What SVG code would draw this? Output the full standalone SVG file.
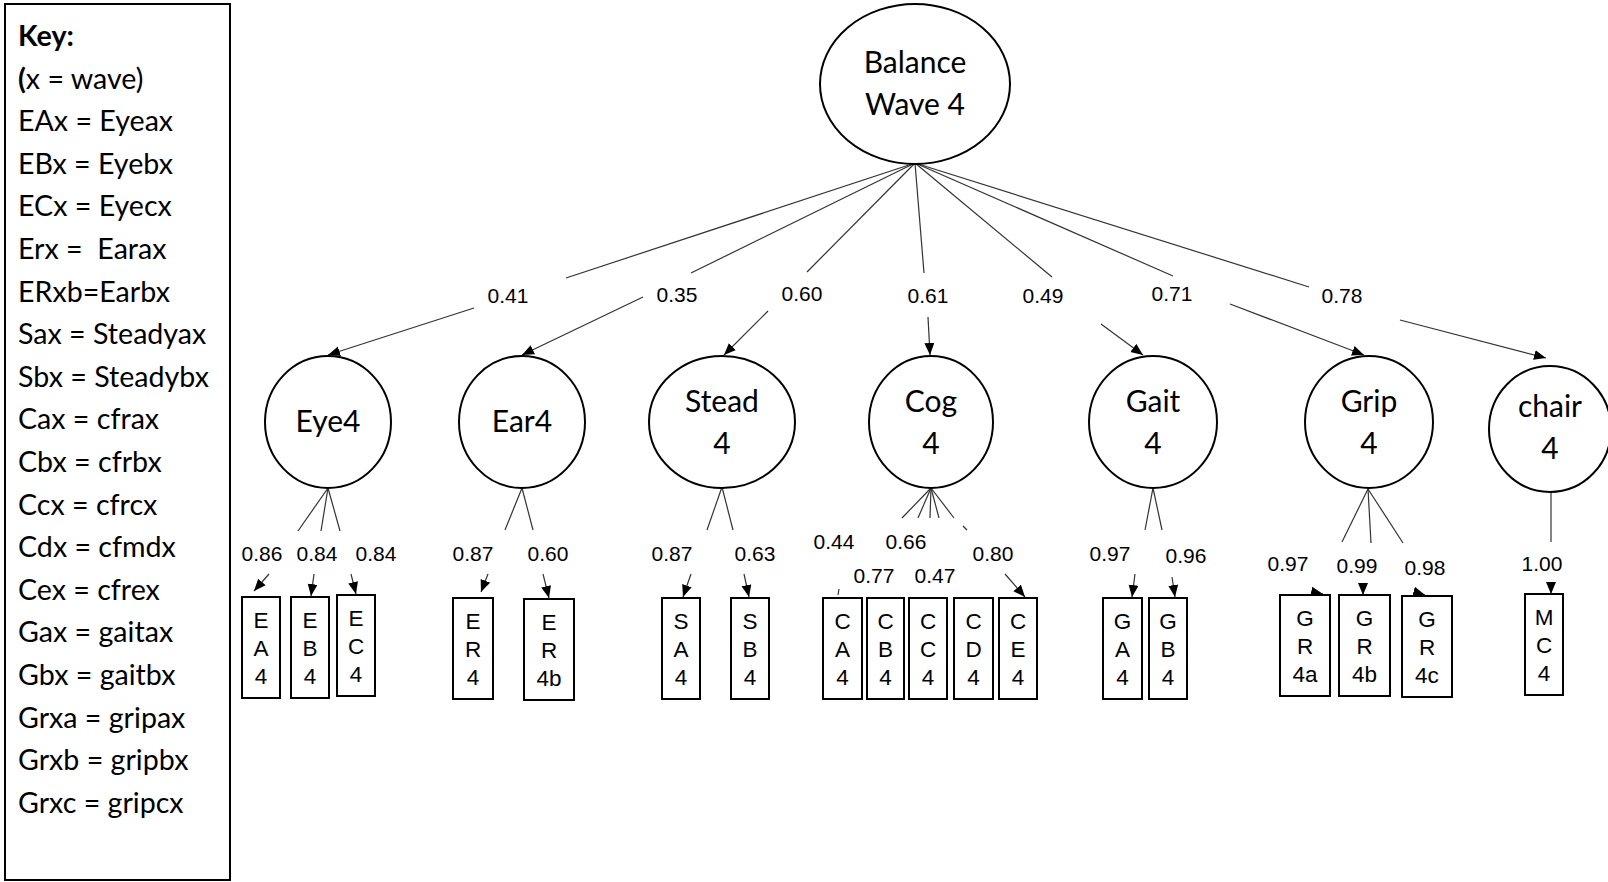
<svg xmlns="http://www.w3.org/2000/svg" width="1608" height="882" viewBox="0 0 1608 882">
<defs>
<marker id="ah" markerUnits="userSpaceOnUse" markerWidth="14" markerHeight="12" refX="12" refY="5" orient="auto">
<path d="M0,0 L12,5 L0,10 z" fill="#000"/>
</marker>
<style>
.lat{fill:#fff;stroke:#000;stroke-width:2}
.box{fill:#fff;stroke:#000;stroke-width:2}
.ct{font-family:Lato,"Open Sans",sans-serif;font-size:30px;fill:#000;text-anchor:middle}
.kt{font-family:Lato,"Open Sans",sans-serif;font-size:28.6px;fill:#000}
.bt{font-family:"Liberation Sans",Arial,sans-serif;font-size:22.5px;fill:#000;text-anchor:middle}
.lb{font-family:"Liberation Sans",Arial,sans-serif;font-size:21px;fill:#000;text-anchor:middle}
.ln{stroke:#333;stroke-width:1.2;fill:none}
.ar{stroke:#333;stroke-width:1.2;fill:none;marker-end:url(#ah)}
</style>
</defs>
<rect width="1608" height="882" fill="#fff"/>

<g id="key">
<rect x="5" y="4" width="225" height="876" fill="#fff" stroke="#000" stroke-width="2"/>
<text class="kt" x="18" y="46" font-weight="bold">Key:</text>
<text class="kt" x="18" y="88.6"><tspan font-weight="bold">(</tspan>x = wave)</text>
<text class="kt" x="18" y="131.2">EAx = Eyeax</text>
<text class="kt" x="18" y="173.8">EBx = Eyebx</text>
<text class="kt" x="18" y="216.4">ECx = Eyecx</text>
<text class="kt" x="18" y="259" xml:space="preserve">Erx =  Earax</text>
<text class="kt" x="18" y="301.6">ERxb=Earbx</text>
<text class="kt" x="18" y="344.2">Sax = Steadyax</text>
<text class="kt" x="18" y="386.8">Sbx = Steadybx</text>
<text class="kt" x="18" y="429.4">Cax = cfrax</text>
<text class="kt" x="18" y="472">Cbx = cfrbx</text>
<text class="kt" x="18" y="514.6">Ccx = cfrcx</text>
<text class="kt" x="18" y="557.2">Cdx = cfmdx</text>
<text class="kt" x="18" y="599.8">Cex = cfrex</text>
<text class="kt" x="18" y="642.4">Gax = gaitax</text>
<text class="kt" x="18" y="685">Gbx = gaitbx</text>
<text class="kt" x="18" y="727.6">Grxa = gripax</text>
<text class="kt" x="18" y="770.2">Grxb = gripbx</text>
<text class="kt" x="18" y="812.8">Grxc = gripcx</text>
</g>

<g id="connectors">
<line class="ln" x1="915" y1="163" x2="566" y2="278"/>
<line class="ar" x1="474" y1="308" x2="328" y2="355"/>
<line class="ln" x1="915" y1="163" x2="691" y2="273"/>
<line class="ar" x1="643" y1="297" x2="522" y2="355"/>
<line class="ln" x1="915" y1="163" x2="807" y2="272"/>
<line class="ar" x1="768" y1="311" x2="724" y2="355"/>
<line class="ln" x1="915" y1="163" x2="924" y2="273"/>
<line class="ar" x1="928" y1="317" x2="930" y2="355"/>
<line class="ln" x1="915" y1="163" x2="1052" y2="277"/>
<line class="ar" x1="1101" y1="324" x2="1143" y2="355"/>
<line class="ln" x1="915" y1="163" x2="1173" y2="276"/>
<line class="ar" x1="1230" y1="304" x2="1364" y2="355"/>
<line class="ln" x1="915" y1="163" x2="1309" y2="287"/>
<line class="ar" x1="1400" y1="320" x2="1546" y2="358"/>
<line class="ln" x1="328" y1="488" x2="298" y2="531"/>
<line class="ln" x1="328" y1="488" x2="321" y2="531"/>
<line class="ln" x1="328" y1="488" x2="340" y2="531"/>
<line class="ar" x1="269" y1="574" x2="254" y2="591"/>
<line class="ar" x1="314" y1="574" x2="311" y2="596"/>
<line class="ar" x1="351" y1="574" x2="356" y2="594"/>
<line class="ln" x1="522" y1="488" x2="505" y2="530"/>
<line class="ln" x1="522" y1="488" x2="533" y2="530"/>
<line class="ar" x1="488" y1="574" x2="481" y2="592"/>
<line class="ar" x1="543" y1="574" x2="549" y2="598"/>
<line class="ln" x1="722" y1="487" x2="707" y2="530"/>
<line class="ln" x1="722" y1="487" x2="733" y2="530"/>
<line class="ar" x1="691" y1="574" x2="683" y2="597"/>
<line class="ar" x1="744" y1="574" x2="749" y2="597"/>
<line class="ln" x1="931" y1="488" x2="902" y2="518"/>
<line class="ln" x1="931" y1="488" x2="918" y2="518"/>
<line class="ln" x1="931" y1="488" x2="930" y2="518"/>
<line class="ln" x1="931" y1="488" x2="939" y2="518"/>
<line class="ln" x1="931" y1="488" x2="954" y2="518"/>
<line class="ln" x1="963" y1="526" x2="967" y2="530"/>
<line class="ln" x1="839" y1="589" x2="838" y2="595"/>
<line class="ar" x1="1005" y1="574" x2="1025" y2="597"/>
<line class="ln" x1="1153" y1="488" x2="1145" y2="530"/>
<line class="ln" x1="1153" y1="488" x2="1162" y2="530"/>
<line class="ar" x1="1135" y1="574" x2="1132" y2="597"/>
<line class="ar" x1="1172" y1="577" x2="1175" y2="597"/>
<line class="ln" x1="1368" y1="489" x2="1342" y2="542"/>
<line class="ln" x1="1368" y1="489" x2="1371" y2="543"/>
<line class="ln" x1="1368" y1="489" x2="1403" y2="543"/>
<line class="ar" x1="1321" y1="593.6" x2="1323" y2="594"/>
<line class="ar" x1="1363" y1="593" x2="1363" y2="595"/>
<line class="ar" x1="1423" y1="594.4" x2="1425" y2="595"/>
<line class="ln" x1="1551" y1="492" x2="1551" y2="542"/>
<line class="ar" x1="1551" y1="592" x2="1551" y2="594"/>
</g>

<g id="loadings">
<text class="lb" x="508" y="303">0.41</text>
<text class="lb" x="677" y="302">0.35</text>
<text class="lb" x="802" y="301">0.60</text>
<text class="lb" x="928" y="303">0.61</text>
<text class="lb" x="1043" y="303">0.49</text>
<text class="lb" x="1172" y="301">0.71</text>
<text class="lb" x="1342" y="303">0.78</text>
<text class="lb" x="262" y="561">0.86</text>
<text class="lb" x="317" y="561">0.84</text>
<text class="lb" x="376" y="561">0.84</text>
<text class="lb" x="473" y="561">0.87</text>
<text class="lb" x="548" y="561">0.60</text>
<text class="lb" x="672" y="561">0.87</text>
<text class="lb" x="755" y="561">0.63</text>
<text class="lb" x="834" y="549">0.44</text>
<text class="lb" x="906" y="549">0.66</text>
<text class="lb" x="874" y="583">0.77</text>
<text class="lb" x="935" y="583">0.47</text>
<text class="lb" x="993" y="561">0.80</text>
<text class="lb" x="1110" y="561">0.97</text>
<text class="lb" x="1186" y="563">0.96</text>
<text class="lb" x="1288" y="571">0.97</text>
<text class="lb" x="1357" y="573">0.99</text>
<text class="lb" x="1425" y="575">0.98</text>
<text class="lb" x="1542" y="571">1.00</text>
</g>

<g id="balance">
<ellipse class="lat" cx="915" cy="84" rx="95" ry="80"/>
<text class="ct" x="915" y="73">Balance</text>
<text class="ct" x="915" y="115">Wave 4</text>
</g>

<g id="eye4">
<ellipse class="lat" cx="328" cy="422" rx="63" ry="66"/>
<text class="ct" x="328" y="432">Eye4</text>
</g>
<g id="ear4">
<ellipse class="lat" cx="522" cy="422" rx="63" ry="66"/>
<text class="ct" x="522" y="432">Ear4</text>
</g>
<g id="stead4">
<ellipse class="lat" cx="722" cy="422" rx="73" ry="66"/>
<text class="ct" x="722" y="412">Stead</text>
<text class="ct" x="722" y="454">4</text>
</g>
<g id="cog4">
<ellipse class="lat" cx="931" cy="422" rx="62" ry="66"/>
<text class="ct" x="931" y="412">Cog</text>
<text class="ct" x="931" y="454">4</text>
</g>
<g id="gait4">
<ellipse class="lat" cx="1153" cy="422" rx="64" ry="66"/>
<text class="ct" x="1153" y="412">Gait</text>
<text class="ct" x="1153" y="454">4</text>
</g>
<g id="grip4">
<ellipse class="lat" cx="1369" cy="422" rx="64" ry="66"/>
<text class="ct" x="1369" y="412">Grip</text>
<text class="ct" x="1369" y="454">4</text>
</g>
<g id="chair4">
<ellipse class="lat" cx="1550" cy="429" rx="61" ry="63"/>
<text class="ct" x="1550" y="417">chair</text>
<text class="ct" x="1550" y="459">4</text>
</g>

<g id="EA4"><rect class="box" x="242" y="597" width="38" height="101"/><text class="bt" x="261" y="628">E</text><text class="bt" x="261" y="656">A</text><text class="bt" x="261" y="684">4</text></g>
<g id="EB4"><rect class="box" x="291" y="597" width="38" height="101"/><text class="bt" x="310" y="628">E</text><text class="bt" x="310" y="656">B</text><text class="bt" x="310" y="684">4</text></g>
<g id="EC4"><rect class="box" x="337" y="595" width="38" height="101"/><text class="bt" x="356" y="626">E</text><text class="bt" x="356" y="654">C</text><text class="bt" x="356" y="682">4</text></g>
<g id="ER4"><rect class="box" x="453" y="598" width="40" height="101"/><text class="bt" x="473" y="629">E</text><text class="bt" x="473" y="657">R</text><text class="bt" x="473" y="685">4</text></g>
<g id="ER4b"><rect class="box" x="524" y="599" width="50" height="101"/><text class="bt" x="549" y="630">E</text><text class="bt" x="549" y="658">R</text><text class="bt" x="549" y="686">4b</text></g>
<g id="SA4"><rect class="box" x="662" y="598" width="38" height="101"/><text class="bt" x="681" y="629">S</text><text class="bt" x="681" y="657">A</text><text class="bt" x="681" y="685">4</text></g>
<g id="SB4"><rect class="box" x="731" y="598" width="38" height="101"/><text class="bt" x="750" y="629">S</text><text class="bt" x="750" y="657">B</text><text class="bt" x="750" y="685">4</text></g>
<g id="CA4"><rect class="box" x="823" y="598" width="39" height="101"/><text class="bt" x="842.5" y="629">C</text><text class="bt" x="842.5" y="657">A</text><text class="bt" x="842.5" y="685">4</text></g>
<g id="CB4"><rect class="box" x="867" y="598" width="37" height="101"/><text class="bt" x="885.5" y="629">C</text><text class="bt" x="885.5" y="657">B</text><text class="bt" x="885.5" y="685">4</text></g>
<g id="CC4"><rect class="box" x="909" y="598" width="38" height="101"/><text class="bt" x="928" y="629">C</text><text class="bt" x="928" y="657">C</text><text class="bt" x="928" y="685">4</text></g>
<g id="CD4"><rect class="box" x="954" y="598" width="39" height="101"/><text class="bt" x="973.5" y="629">C</text><text class="bt" x="973.5" y="657">D</text><text class="bt" x="973.5" y="685">4</text></g>
<g id="CE4"><rect class="box" x="999" y="598" width="38" height="101"/><text class="bt" x="1018" y="629">C</text><text class="bt" x="1018" y="657">E</text><text class="bt" x="1018" y="685">4</text></g>
<g id="GA4"><rect class="box" x="1103" y="598" width="39" height="101"/><text class="bt" x="1122.5" y="629">G</text><text class="bt" x="1122.5" y="657">A</text><text class="bt" x="1122.5" y="685">4</text></g>
<g id="GB4"><rect class="box" x="1149" y="598" width="38" height="101"/><text class="bt" x="1168" y="629">G</text><text class="bt" x="1168" y="657">B</text><text class="bt" x="1168" y="685">4</text></g>
<g id="GR4a"><rect class="box" x="1280" y="595" width="50" height="101"/><text class="bt" x="1305" y="626">G</text><text class="bt" x="1305" y="654">R</text><text class="bt" x="1305" y="682">4a</text></g>
<g id="GR4b"><rect class="box" x="1339" y="595" width="51" height="101"/><text class="bt" x="1364.5" y="626">G</text><text class="bt" x="1364.5" y="654">R</text><text class="bt" x="1364.5" y="682">4b</text></g>
<g id="GR4c"><rect class="box" x="1402" y="596" width="50" height="101"/><text class="bt" x="1427" y="627">G</text><text class="bt" x="1427" y="655">R</text><text class="bt" x="1427" y="683">4c</text></g>
<g id="MC4"><rect class="box" x="1525" y="594" width="38" height="101"/><text class="bt" x="1544" y="625">M</text><text class="bt" x="1544" y="653">C</text><text class="bt" x="1544" y="681">4</text></g>
</svg>
